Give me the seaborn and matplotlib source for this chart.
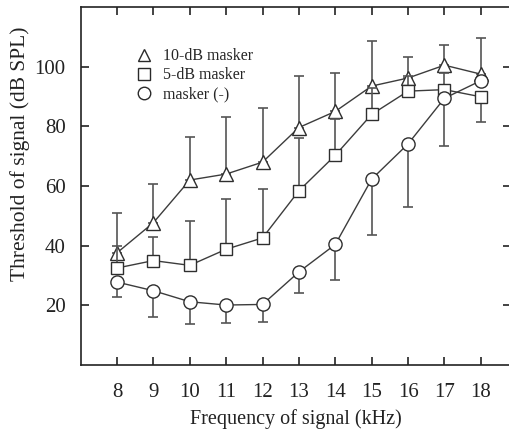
import numpy as np
import pandas as pd
import matplotlib
matplotlib.use("Agg")
import matplotlib.pyplot as plt
import seaborn as sns
from matplotlib.lines import Line2D

freq = [8, 9, 10, 11, 12, 13, 14, 15, 16, 17, 18]

masker10 = [37.6, 47.7, 62.0, 64.0, 68.0, 79.6, 85.0, 93.5, 96.2, 100.5, 97.5]
masker10_up = [13.5, 13.0, 14.3, 19.0, 18.0, 17.4, 13.0, 15.0, 7.2, 6.8, 12.1]

masker5 = [32.5, 35.0, 33.4, 38.8, 42.6, 58.4, 70.3, 84.0, 91.8, 92.3, 89.9]
masker5_up = [7.3, 7.8, 14.8, 16.7, 16.5, 17.6, 12.0, 9.0, 5.0, 5.6, 0.0]
masker5_down = [0, 0, 0, 0, 0, 0, 0, 0, 0, 0, 8.3]

nomasker = [27.8, 24.9, 21.2, 20.1, 20.3, 31.2, 40.4, 62.3, 74.1, 89.4, 95.3]
nomasker_down = [5.0, 8.9, 7.4, 5.9, 5.8, 7.0, 12.0, 18.6, 21.2, 16.0, 0.0]

labels = ["10-dB masker", "5-dB masker", "masker (-)"]
yticks = [20, 40, 60, 80, 100]

sns.set_theme(style="ticks")
plt.rcParams['font.family'] = ['Liberation Serif', 'DejaVu Serif']

fig = plt.figure(figsize=(5.09, 4.33), dpi=100)
ax = fig.add_axes([81/509, (433-365)/433, (511-81)/509, (365-7)/433])

zero = [0]*len(freq)
series = [
    (masker10, zero, masker10_up, "^", 10.5),
    (masker5, masker5_down, masker5_up, "s", 8.5),
    (nomasker, nomasker_down, zero, "o", 9.5),
]

df = pd.DataFrame({
    "freq": freq * 3,
    "val": masker10 + masker5 + nomasker,
    "grp": [labels[0]]*11 + [labels[1]]*11 + [labels[2]]*11,
})

for i, (vals, lo, hi, mk, ms) in enumerate(series):
    ax.errorbar(freq, vals, yerr=[lo, hi], fmt="none", ecolor="#555555",
                elinewidth=1.2, capsize=3.5, capthick=1.2, zorder=2 + 2*i)
    sub = df[df.grp == labels[i]]
    sns.lineplot(data=sub, x="freq", y="val", ax=ax, color="#3c3c3c",
                 linewidth=1.0, marker=mk, markersize=ms,
                 markerfacecolor="white", markeredgecolor="#2e2e2e",
                 markeredgewidth=1.0, zorder=3 + 2*i, legend=False)

ax.set_xlim(7.01, 18.83)
ax.set_ylim(0, 120)
ax.set_xticks(freq)
ax.set_yticks(yticks)
ax.tick_params(direction="in", length=6, width=1.2, top=True, right=True,
               labelsize=15, colors="#222222")
ax.tick_params(axis="x", pad=13)
ax.tick_params(axis="y", pad=11)
for s in ax.spines.values():
    s.set_linewidth(1.2)
    s.set_color("#222222")

ax.set_xlabel("Frequency of signal (kHz)", fontsize=14.5, color="#222222", labelpad=5)
ax.set_ylabel("Threshold of signal (dB SPL)", fontsize=15.5, color="#222222")
ax.yaxis.set_label_coords(-0.118, 0.59)

handles = [Line2D([], [], linestyle="none", marker=m, markersize=s,
                  markerfacecolor="white", markeredgecolor="#2a2a2a", markeredgewidth=1.0)
           for m, s in [("^", 9), ("s", 8), ("o", 9)]]
leg = ax.legend(handles, labels, loc="upper left", bbox_to_anchor=(0.095, 0.925),
                frameon=False, fontsize=11.5, handlelength=1.0, handletextpad=0.7,
                labelspacing=0.2)

fig.savefig("out.png", dpi=100)
